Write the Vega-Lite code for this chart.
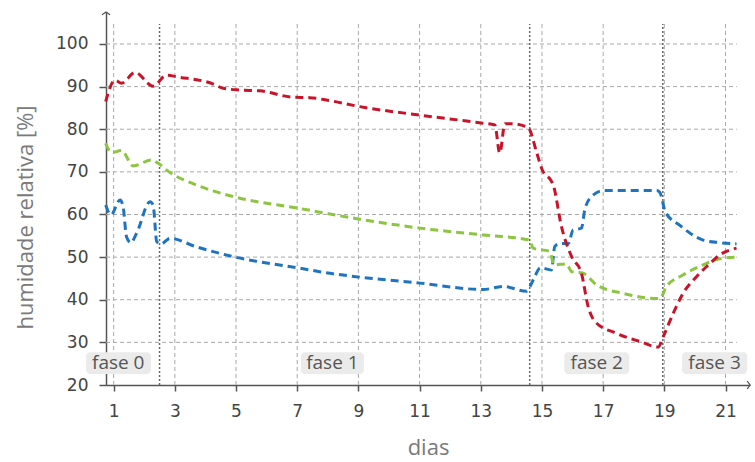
{
  "$schema": "https://vega.github.io/schema/vega-lite/v6.json",
  "width": 644,
  "height": 373,
  "autosize": "none",
  "padding": {"left": 106, "top": 12, "right": 5, "bottom": 77},
  "background": "white",
  "config": {"view": {"stroke": null}},
  "datasets": {
    "series": [
      {"dia": 0.74, "umidade": 62.2, "serie": "azul"}, {"dia": 0.91, "umidade": 59.9, "serie": "azul"}, {"dia": 1.21, "umidade": 63.4, "serie": "azul"}, {"dia": 1.31, "umidade": 61.8, "serie": "azul"}, {"dia": 1.42, "umidade": 54.8, "serie": "azul"}, {"dia": 1.56, "umidade": 53.4, "serie": "azul"}, {"dia": 1.75, "umidade": 55.6, "serie": "azul"}, {"dia": 2.19, "umidade": 63.0, "serie": "azul"}, {"dia": 2.29, "umidade": 62.2, "serie": "azul"}, {"dia": 2.41, "umidade": 53.6, "serie": "azul"}, {"dia": 2.55, "umidade": 53.1, "serie": "azul"}, {"dia": 2.84, "umidade": 54.4, "serie": "azul"}, {"dia": 3.71, "umidade": 52.4, "serie": "azul"}, {"dia": 4.91, "umidade": 50.1, "serie": "azul"}, {"dia": 7.09, "umidade": 47.4, "serie": "azul"}, {"dia": 8.07, "umidade": 46.2, "serie": "azul"}, {"dia": 9.05, "umidade": 45.3, "serie": "azul"}, {"dia": 11.01, "umidade": 43.9, "serie": "azul"}, {"dia": 13.08, "umidade": 42.4, "serie": "azul"}, {"dia": 13.73, "umidade": 43.1, "serie": "azul"}, {"dia": 14.5, "umidade": 42.0, "serie": "azul"}, {"dia": 14.71, "umidade": 44.6, "serie": "azul"}, {"dia": 14.95, "umidade": 47.5, "serie": "azul"}, {"dia": 15.31, "umidade": 47.0, "serie": "azul"}, {"dia": 15.42, "umidade": 52.5, "serie": "azul"}, {"dia": 15.59, "umidade": 53.2, "serie": "azul"}, {"dia": 15.86, "umidade": 53.2, "serie": "azul"}, {"dia": 16.02, "umidade": 56.4, "serie": "azul"}, {"dia": 16.29, "umidade": 56.8, "serie": "azul"}, {"dia": 16.4, "umidade": 61.1, "serie": "azul"}, {"dia": 16.62, "umidade": 64.2, "serie": "azul"}, {"dia": 17.0, "umidade": 65.6, "serie": "azul"}, {"dia": 18.75, "umidade": 65.6, "serie": "azul"}, {"dia": 18.85, "umidade": 65.2, "serie": "azul"}, {"dia": 19.04, "umidade": 60.5, "serie": "azul"}, {"dia": 19.5, "umidade": 57.5, "serie": "azul"}, {"dia": 20.27, "umidade": 54.0, "serie": "azul"}, {"dia": 20.81, "umidade": 53.4, "serie": "azul"}, {"dia": 21.36, "umidade": 53.1, "serie": "azul"},
      {"dia": 0.74, "umidade": 76.7, "serie": "verde"}, {"dia": 0.93, "umidade": 74.5, "serie": "verde"}, {"dia": 1.26, "umidade": 75.0, "serie": "verde"}, {"dia": 1.64, "umidade": 71.4, "serie": "verde"}, {"dia": 2.24, "umidade": 72.8, "serie": "verde"}, {"dia": 2.46, "umidade": 72.0, "serie": "verde"}, {"dia": 2.73, "umidade": 70.4, "serie": "verde"}, {"dia": 3.71, "umidade": 66.9, "serie": "verde"}, {"dia": 4.91, "umidade": 64.2, "serie": "verde"}, {"dia": 7.09, "umidade": 61.4, "serie": "verde"}, {"dia": 8.07, "umidade": 60.1, "serie": "verde"}, {"dia": 9.05, "umidade": 58.9, "serie": "verde"}, {"dia": 11.01, "umidade": 56.8, "serie": "verde"}, {"dia": 13.08, "umidade": 55.2, "serie": "verde"}, {"dia": 14.6, "umidade": 54.0, "serie": "verde"}, {"dia": 14.71, "umidade": 52.1, "serie": "verde"}, {"dia": 15.26, "umidade": 51.3, "serie": "verde"}, {"dia": 15.39, "umidade": 48.2, "serie": "verde"}, {"dia": 15.8, "umidade": 48.4, "serie": "verde"}, {"dia": 15.97, "umidade": 46.6, "serie": "verde"}, {"dia": 16.35, "umidade": 46.2, "serie": "verde"}, {"dia": 16.78, "umidade": 43.5, "serie": "verde"}, {"dia": 17.65, "umidade": 41.5, "serie": "verde"}, {"dia": 18.75, "umidade": 40.3, "serie": "verde"}, {"dia": 18.85, "umidade": 40.3, "serie": "verde"}, {"dia": 19.07, "umidade": 43.1, "serie": "verde"}, {"dia": 19.61, "umidade": 45.8, "serie": "verde"}, {"dia": 20.27, "umidade": 48.2, "serie": "verde"}, {"dia": 20.81, "umidade": 49.6, "serie": "verde"}, {"dia": 21.36, "umidade": 50.0, "serie": "verde"},
      {"dia": 0.74, "umidade": 86.5, "serie": "vermelho"}, {"dia": 1.04, "umidade": 91.5, "serie": "vermelho"}, {"dia": 1.26, "umidade": 90.8, "serie": "vermelho"}, {"dia": 1.7, "umidade": 93.3, "serie": "vermelho"}, {"dia": 2.29, "umidade": 90.1, "serie": "vermelho"}, {"dia": 2.73, "umidade": 92.7, "serie": "vermelho"}, {"dia": 3.06, "umidade": 92.3, "serie": "vermelho"}, {"dia": 4.26, "umidade": 90.6, "serie": "vermelho"}, {"dia": 4.58, "umidade": 89.6, "serie": "vermelho"}, {"dia": 5.13, "umidade": 89.2, "serie": "vermelho"}, {"dia": 5.78, "umidade": 89.0, "serie": "vermelho"}, {"dia": 6.87, "umidade": 87.5, "serie": "vermelho"}, {"dia": 7.41, "umidade": 87.4, "serie": "vermelho"}, {"dia": 8.07, "umidade": 86.7, "serie": "vermelho"}, {"dia": 9.05, "umidade": 85.3, "serie": "vermelho"}, {"dia": 11.01, "umidade": 83.3, "serie": "vermelho"}, {"dia": 13.08, "umidade": 81.4, "serie": "vermelho"}, {"dia": 13.46, "umidade": 81.0, "serie": "vermelho"}, {"dia": 13.62, "umidade": 74.4, "serie": "vermelho"}, {"dia": 13.79, "umidade": 81.3, "serie": "vermelho"}, {"dia": 14.0, "umidade": 81.3, "serie": "vermelho"}, {"dia": 14.55, "umidade": 80.4, "serie": "vermelho"}, {"dia": 14.82, "umidade": 74.7, "serie": "vermelho"}, {"dia": 14.99, "umidade": 70.8, "serie": "vermelho"}, {"dia": 15.37, "umidade": 66.9, "serie": "vermelho"}, {"dia": 15.64, "umidade": 57.1, "serie": "vermelho"}, {"dia": 15.97, "umidade": 50.1, "serie": "vermelho"}, {"dia": 16.29, "umidade": 46.2, "serie": "vermelho"}, {"dia": 16.51, "umidade": 38.4, "serie": "vermelho"}, {"dia": 16.73, "umidade": 34.9, "serie": "vermelho"}, {"dia": 17.44, "umidade": 32.1, "serie": "vermelho"}, {"dia": 18.2, "umidade": 30.2, "serie": "vermelho"}, {"dia": 18.8, "umidade": 28.9, "serie": "vermelho"}, {"dia": 18.96, "umidade": 31.3, "serie": "vermelho"}, {"dia": 19.29, "umidade": 36.8, "serie": "vermelho"}, {"dia": 19.61, "umidade": 41.5, "serie": "vermelho"}, {"dia": 20.05, "umidade": 45.4, "serie": "vermelho"}, {"dia": 20.49, "umidade": 48.5, "serie": "vermelho"}, {"dia": 20.81, "umidade": 50.5, "serie": "vermelho"}, {"dia": 21.36, "umidade": 52.1, "serie": "vermelho"}
    ],
    "hgrid": [{"y": 30, "x0": 0.75, "x1": 21.37}, {"y": 40, "x0": 0.75, "x1": 21.37}, {"y": 50, "x0": 0.75, "x1": 21.37}, {"y": 60, "x0": 0.75, "x1": 21.37}, {"y": 70, "x0": 0.75, "x1": 21.37}, {"y": 80, "x0": 0.75, "x1": 21.37}, {"y": 90, "x0": 0.75, "x1": 21.37}, {"y": 100, "x0": 0.75, "x1": 21.37}],
    "vgrid": [{"x": 1}, {"x": 3}, {"x": 5}, {"x": 7}, {"x": 9}, {"x": 11}, {"x": 13}, {"x": 15}, {"x": 17}, {"x": 19}, {"x": 21}],
    "fases": [{"x": 2.5}, {"x": 14.6}, {"x": 18.95}],
    "rotulos": [
      {"fase": "fase 0", "xc": 1.15, "x0": 0.1, "x1": 2.22},
      {"fase": "fase 1", "xc": 8.15, "x0": 7.12, "x1": 9.18},
      {"fase": "fase 2", "xc": 16.79, "x0": 15.73, "x1": 17.85},
      {"fase": "fase 3", "xc": 20.64, "x0": 19.58, "x1": 21.71}
    ]
  },
  "layer": [
    {
      "data": {"name": "hgrid"},
      "mark": {"type": "rule", "color": "#a8a8a8", "strokeWidth": 1, "strokeDash": [4, 3]},
      "encoding": {
        "y": {"field": "y", "type": "quantitative", "scale": {"domain": [20, 107.5], "nice": false, "zero": false},
          "axis": {"values": [20, 30, 40, 50, 60, 70, 80, 90, 100], "grid": false, "tickSize": 7, "tickColor": "#555", "tickWidth": 1.5, "domainColor": "#555", "domainWidth": 1.5, "labelFont": "DejaVu Sans", "labelFontSize": 17, "labelColor": "#444", "labelPadding": 11, "title": "humidade relativa [%]", "titleFont": "Open Sans", "titleFontSize": 22, "titleFontWeight": "normal", "titleColor": "#7a7a7a", "titleX": -81, "titleY": 205, "titleAngle": -90, "titleAlign": "center", "titleBaseline": "middle"}},
        "x": {"field": "x0", "type": "quantitative", "scale": {"domain": [0.75, 21.8], "nice": false, "zero": false},
          "axis": {"values": [1, 3, 5, 7, 9, 11, 13, 15, 17, 19, 21], "grid": false, "tickSize": 6, "tickColor": "#555", "tickWidth": 1.5, "domainColor": "#555", "domainWidth": 1.5, "labelFont": "DejaVu Sans", "labelFontSize": 17, "labelColor": "#444", "labelPadding": 12, "title": "dias", "titleFont": "Open Sans", "titleFontSize": 22, "titleFontWeight": "normal", "titleColor": "#7a7a7a", "titlePadding": 18}},
        "x2": {"field": "x1"}
      }
    },
    {
      "data": {"name": "vgrid"},
      "mark": {"type": "rule", "color": "#a8a8a8", "strokeWidth": 1, "strokeDash": [4, 3]},
      "encoding": {
        "x": {"field": "x", "type": "quantitative"},
        "y": {"datum": 20, "type": "quantitative"},
        "y2": {"datum": 104.7}
      }
    },
    {
      "data": {"name": "fases"},
      "mark": {"type": "rule", "color": "#666", "strokeWidth": 1.5, "strokeDash": [2, 2]},
      "encoding": {
        "x": {"field": "x", "type": "quantitative"},
        "y": {"datum": 20, "type": "quantitative"},
        "y2": {"datum": 104.7}
      }
    },
    {
      "data": {"name": "rotulos"},
      "mark": {"type": "rect", "fill": "#ebebeb", "cornerRadius": 4, "clip": false},
      "encoding": {
        "x": {"field": "x0", "type": "quantitative"},
        "x2": {"field": "x1"},
        "y": {"datum": 22.6, "type": "quantitative"},
        "y2": {"datum": 27.7}
      }
    },
    {
      "data": {"name": "rotulos"},
      "mark": {"type": "text", "font": "Open Sans", "fontSize": 19, "color": "#555", "align": "center", "baseline": "middle", "clip": false},
      "encoding": {
        "x": {"field": "xc", "type": "quantitative"},
        "y": {"datum": 25.1, "type": "quantitative"},
        "text": {"field": "fase"}
      }
    },
    {
      "data": {"name": "series"},
      "mark": {"type": "line", "interpolate": "monotone", "strokeWidth": 3, "strokeDash": [8, 5]},
      "encoding": {
        "x": {"field": "dia", "type": "quantitative"},
        "y": {"field": "umidade", "type": "quantitative"},
        "color": {"field": "serie", "type": "nominal", "scale": {"domain": ["azul", "verde", "vermelho"], "range": ["#1f74c0", "#8cc540", "#c8142a"]}, "legend": null}
      }
    },
    {
      "data": {"values": [{"x": 0.75, "y": 107.5}]},
      "mark": {"type": "point", "shape": "M -1 0.7 L 0 0 L 1 0.7", "size": 64, "filled": false, "stroke": "#555", "strokeWidth": 1.3, "opacity": 1, "clip": false},
      "encoding": {"x": {"field": "x", "type": "quantitative"}, "y": {"field": "y", "type": "quantitative"}}
    },
    {
      "data": {"values": [{"x": 21.8, "y": 20}]},
      "mark": {"type": "point", "shape": "M -0.7 -1 L 0 0 L -0.7 1", "size": 64, "filled": false, "stroke": "#555", "strokeWidth": 1.3, "opacity": 1, "clip": false},
      "encoding": {"x": {"field": "x", "type": "quantitative"}, "y": {"field": "y", "type": "quantitative"}}
    }
  ]
}
